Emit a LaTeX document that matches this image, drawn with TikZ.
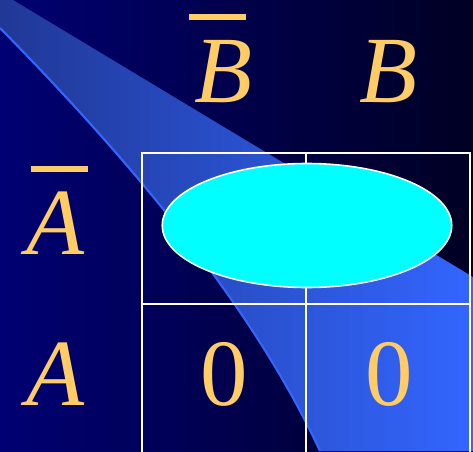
\documentclass[tikz,border=0pt]{standalone}
\usepackage{fontspec}
\setmainfont{Liberation Serif}
\usepackage{tikz}
\usetikzlibrary{shapes.geometric, positioning}

\definecolor{navyleft}{RGB}{0,0,115}
\definecolor{navyright}{RGB}{0,0,35}
\definecolor{beamleft}{RGB}{32,56,150}
\definecolor{beamright}{RGB}{51,102,255}
\definecolor{beamedge}{RGB}{51,102,255}
\definecolor{kmapgold}{RGB}{255,204,102}
\definecolor{groupcyan}{RGB}{0,255,255}

\begin{document}
\begin{tikzpicture}[
  cell/.style={draw=white, line width=1.1pt, minimum width=3.28cm, minimum height=3.02cm, inner sep=0pt, outer sep=0pt},
  var/.style={text=kmapgold, anchor=base, inner sep=0pt, font=\fontsize{54}{60}\selectfont\itshape},
  val/.style={text=kmapgold, anchor=base, inner sep=0pt, font=\fontsize{54}{60}\selectfont},
  overbar/.style={kmapgold, line width=0.12cm},
  group/.style={ellipse, draw=white, fill=groupcyan, line width=0.9pt, inner sep=0pt, minimum width=5.79cm, minimum height=2.48cm}]
\useasboundingbox (0,0) rectangle (9.46,9.02);
\clip (0,0) rectangle (9.46,9.02);
\shade[left color=navyleft, right color=navyright] (0,0) rectangle (9.46,9.02);
\shade[left color=beamleft, right color=beamright] (0.26,9.02) -- (9.46,3.48) -- (9.46,0) -- (6.4,0)
  .. controls (5.0,3.02) and (2.4,6.02) .. (0,8.46) -- (0,9.02) -- cycle;
\draw[beamedge, line width=1.2pt] (6.4,0) .. controls (5.0,3.02) and (2.4,6.02) .. (0,8.46);

\node[cell] (c11) at (4.48,4.45) {};
\node[cell, right=0pt of c11] (c12) {};
\node[cell, below=0pt of c11] (c21) {};
\node[cell, right=0pt of c21] (c22) {};

\node[var] (nb) at (4.46,6.97) {B};
\node[var] (b) at (7.76,6.97) {B};
\node[var] (na) at (1.11,3.93) {A};
\node[var] (a) at (1.11,0.91) {A};
\node[val] (v21) at (4.49,0.91) {0};
\node[val] (v22) at (7.79,0.91) {0};
\draw[overbar] ([shift={(-0.68,1.71)}]nb.base) -- ([shift={(0.46,1.71)}]nb.base);
\draw[overbar] ([shift={(-0.49,1.71)}]na.base) -- ([shift={(0.65,1.71)}]na.base);

\node[group] (g1) at (6.14,4.51) {};
\end{tikzpicture}
\end{document}
